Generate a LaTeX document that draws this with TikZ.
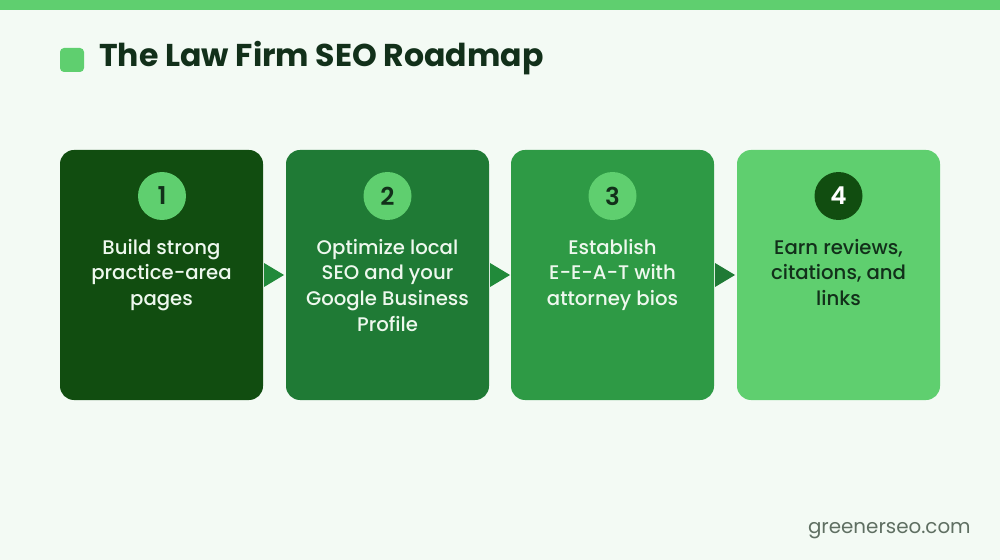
\documentclass[tikz,border=0pt]{standalone}
\usepackage{fontspec}
\setmainfont{Poppins}
\newfontfamily\pmed{Poppins Medium}
\newfontfamily\pbold{Poppins Bold}
\newfontfamily\psemi{Poppins SemiBold}
\definecolor{bg}{HTML}{F3FAF4}
\definecolor{lite}{HTML}{5FCF6F}
\definecolor{gA}{HTML}{114D10}
\definecolor{gB}{HTML}{1F7A35}
\definecolor{gC}{HTML}{2E9A45}
\definecolor{gD}{HTML}{5FCF6F}
\definecolor{ink}{HTML}{12301A}
\definecolor{paletxt}{HTML}{EEF8EE}
\definecolor{foot}{HTML}{5F6F62}
\definecolor{arrowc}{HTML}{218A3A}
\tikzset{
  x=0.02cm, y=-0.02cm,
  card/.style={draw=none, rounded corners=0.28cm},
  badge/.style={circle, minimum size=0.96cm, inner sep=0pt, font=\psemi\fontsize{14}{14}\selectfont},
  cardtxt/.style={align=center, inner sep=0pt, anchor=north, font=\pmed\fontsize{11.2}{14.74}\selectfont},
  tri/.style={fill=arrowc, draw=none},
}
\begin{document}
\begin{tikzpicture}
\fill[bg] (0,0) rectangle (1000,560);
\useasboundingbox (0,0) rectangle (1000,560);
\fill[lite] (0,0) rectangle (1000,10);
\fill[lite, rounded corners=0.08cm] (60,48) rectangle (84,72);
\node[anchor=base west, inner sep=0pt, text=ink, font=\pbold\fontsize{17.95}{20}\selectfont] (title) at (99,67) {The Law Firm SEO Roadmap};

\fill[card, gA] (60,150) rectangle (263,400);
\fill[card, gB] (286,150) rectangle (489,400);
\fill[card, gC] (511,150) rectangle (714,400);
\fill[card, gD] (737,150) rectangle (940,400);

\node[badge, fill=lite, text=ink] (b1) at (162,196) {1};
\node[badge, fill=lite, text=ink] (b2) at (387.5,196) {2};
\node[badge, fill=lite, text=ink] (b3) at (612.5,196) {3};
\node[badge, fill=gA, text=white] (b4) at (838.5,196) {4};

\node[cardtxt, text=paletxt] (t1) at (161.5,238.5) {Build strong\\practice-area\\pages};
\node[cardtxt, text=paletxt] (t2) at (387.5,238.5) {Optimize local\\SEO and your\\Google Business\\Profile};
\node[cardtxt, text=paletxt] (t3) at (612.5,238.5) {Establish\\E-E-A-T with\\attorney bios};
\node[cardtxt, text=ink] (t4) at (838.5,238.5) {Earn reviews,\\citations, and\\links};

\fill[tri] (264,263) -- (284,275) -- (264,287) -- cycle;
\fill[tri] (490,263) -- (510,275) -- (490,287) -- cycle;
\fill[tri, fill=gB] (715,263) -- (735,275) -- (715,287) -- cycle;

\node[anchor=base east, inner sep=0pt, text=foot, font=\fontsize{11.3}{12}\selectfont] (ft) at (971,533) {greenerseo.com};
\end{tikzpicture}
\end{document}
